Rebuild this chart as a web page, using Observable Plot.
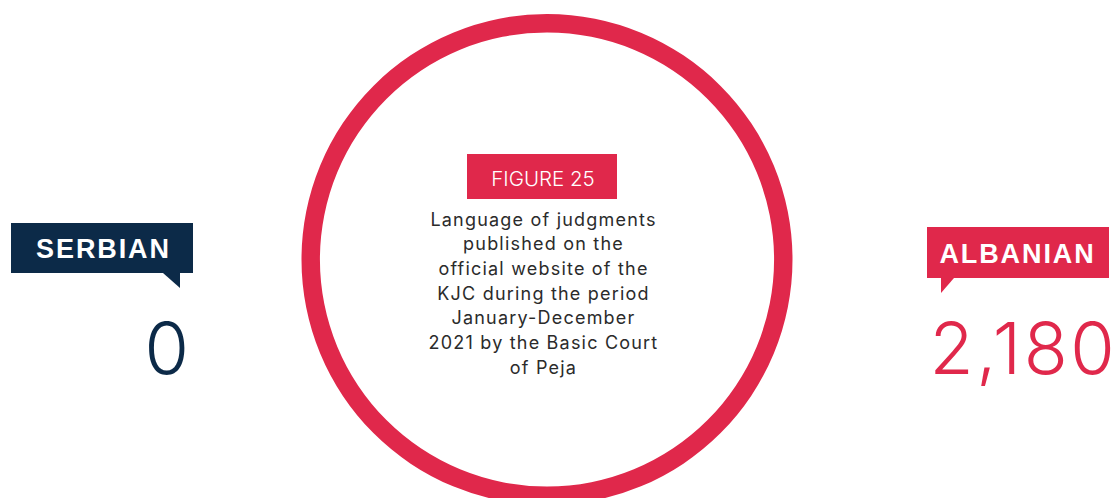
<!DOCTYPE html>
<html><head><meta charset="utf-8">
<script src="https://cdn.jsdelivr.net/npm/d3@7"></script>
<script src="https://cdn.jsdelivr.net/npm/@observablehq/plot@0.6"></script>
<style>body{margin:0;background:#fff;overflow:hidden}</style>
</head><body><div id="chart"></div>
<script>
// ---- data ----
const languages = ["Serbian", "Albanian"];
const judgments = [0, 2180];
const labels = ["SERBIAN", "ALBANIAN"];
const figureLabel = "FIGURE 25";
const titleLines = [
  "Language of judgments",
  "published on the",
  "official website of the",
  "KJC during the period",
  "January-December",
  "2021 by the Basic Court",
  "of Peja"
];

// ---- style / layout ----
const colors = ["#0c2a48", "#e0284b"];
const W = 1118, H = 498;
const ring = {cx: 547, cy: 259.5, inner: 227, outer: 245.5};
const boxes = [
  {x1: 11, x2: 193, y1: 223, y2: 273, tail: [[163, 273], [180, 273], [180, 288]], tx: 103, ty: 257, nx: 191, ny: 373, anchor: "end"},
  {x1: 927, x2: 1109, y1: 227, y2: 278, tail: [[941, 278], [954, 278], [941, 293]], tx: 1017, ty: 262, nx: 929, ny: 373, anchor: "start"}
];
const fig = {x1: 467, x2: 617, y1: 154, y2: 199, tx: 542.5, ty: 185};
const title = {x: 543, y0: 225, lh: 24.7};
const fmt = d3.format(",");
const idx = d3.range(languages.length);

const ringMark = (index, scales) => {
  const pie = d3.pie().sort(null).value(d => d)(judgments);
  const arc = d3.arc().innerRadius(ring.inner).outerRadius(ring.outer);
  const g = d3.create("svg:g").attr("transform", `translate(${scales.x(ring.cx)},${scales.y(ring.cy)})`);
  g.selectAll("path").data(pie).join("path").attr("d", arc).attr("fill", (d, i) => colors[i]);
  return g.node();
};
const tailMark = (index, scales) => {
  const g = d3.create("svg:g");
  g.selectAll("path").data(idx).join("path")
    .attr("d", i => "M" + boxes[i].tail.map(([x, y]) => `${scales.x(x)},${scales.y(y)}`).join("L") + "Z")
    .attr("fill", i => colors[i]);
  return g.node();
};
const valueText = i => Plot.text([i], {x: boxes[i].nx, y: boxes[i].ny, text: d => fmt(judgments[d]), fill: colors[i],
  fontSize: 72, fontWeight: 300, fontFamily: "Inter, Lato, sans-serif", lineAnchor: "bottom", textAnchor: boxes[i].anchor});

const plot = Plot.plot({
  width: W, height: H,
  margin: 0,
  x: {domain: [0, W], range: [0, W], axis: null},
  y: {domain: [0, H], range: [0, H], axis: null},
  style: {background: "#fff"},
  marks: [
    ringMark,
    Plot.rect(idx, {x1: i => boxes[i].x1, x2: i => boxes[i].x2, y1: i => boxes[i].y1, y2: i => boxes[i].y2, fill: i => colors[i]}),
    tailMark,
    Plot.text(idx, {x: i => boxes[i].tx, y: i => boxes[i].ty, text: i => labels[i], fill: "#fff",
      fontSize: 27, fontWeight: "bold", fontFamily: "Liberation Sans, Arial, sans-serif", lineAnchor: "bottom", textAnchor: "middle"}),
    ...idx.map(valueText),
    Plot.rect([0], {x1: fig.x1, x2: fig.x2, y1: fig.y1, y2: fig.y2, fill: colors[1]}),
    Plot.text([figureLabel], {x: fig.tx, y: fig.ty, text: d => d, fill: "#fff", fontSize: 20.5, fontWeight: 300,
      fontFamily: "Inter, Lato, sans-serif", lineAnchor: "bottom", textAnchor: "middle"}),
    Plot.text(titleLines, {x: title.x, y: (d, i) => title.y0 + i * title.lh, text: d => d, fill: "#2b2b2b", fontSize: 18,
      fontFamily: "Inter, sans-serif", lineAnchor: "bottom", textAnchor: "middle"})
  ]
});
const valueStrings = judgments.map(fmt);
d3.select(plot).selectAll("text").each(function() {
  const t = this.textContent;
  if (labels.includes(t)) this.setAttribute("letter-spacing", "1.9px");
  else if (valueStrings.includes(t)) this.setAttribute("letter-spacing", "2.5px");
  else if (titleLines.includes(t)) this.setAttribute("letter-spacing", "1.2px");
});
document.getElementById("chart").appendChild(plot);
</script>
</body></html>
